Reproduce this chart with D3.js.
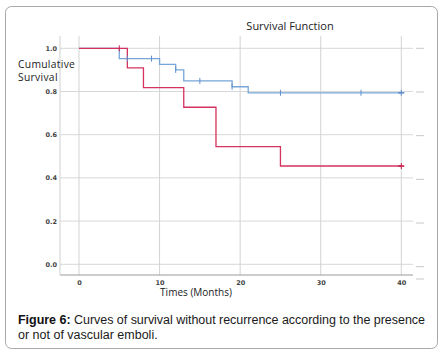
<!DOCTYPE html>
<html><head><meta charset="utf-8">
<script src="https://cdn.jsdelivr.net/npm/d3@7"></script>
<style>body{margin:0;background:#fff}svg{display:block}</style>
</head><body><svg id="c" width="445" height="356"></svg>
<script>
const xTicks = [0,10,20,30,40];
const yTicks = [0.0,0.2,0.4,0.6,0.8,1.0];
const redTimes = [0,6,8,13,17,25];
const redValues = [1.0,0.909,0.818,0.727,0.545,0.455];
const redCensorTimes = [5,40];
const redCensorValues = [1.0,0.455];
const blueTimes = [0,5,10,12,13,19,21];
const blueValues = [1.0,0.952,0.926,0.900,0.849,0.822,0.794];
const blueCensorTimes = [6,9,12,15,19,25,35,40];
const blueCensorValues = [0.952,0.952,0.900,0.849,0.822,0.794,0.794,0.794];
const endTime = 40;

(function(){
const svg = d3.select("#c");
svg.append("rect").attr("x",5.5).attr("y",6.5).attr("width",432).attr("height",342)
  .attr("rx",6).attr("fill","#fff").attr("stroke","#a8a8a8").attr("stroke-width",1);

const x = d3.scaleLinear().domain([0,40]).range([79,401.3]);
const y = d3.scaleLinear().domain([0,1]).range([264.3,48.3]);
const pL = 60, pR = 413, pT = 36, pB = 275;

const g = svg.append("g");
g.selectAll(".hg").data(yTicks).join("line")
  .attr("x1",pL).attr("x2",pR).attr("y1",d=>y(d)).attr("y2",d=>y(d))
  .attr("stroke","#d8d8d8").attr("stroke-width",1);
g.selectAll(".vg").data(xTicks).join("line")
  .attr("x1",d=>x(d)).attr("x2",d=>x(d)).attr("y1",pT).attr("y2",pB)
  .attr("stroke","#d3d3d3").attr("stroke-width",1);
g.selectAll(".rd").data(yTicks).join("line")
  .attr("x1",416).attr("x2",424).attr("y1",d=>y(d)+(1-d)*2.4).attr("y2",d=>y(d)+(1-d)*2.4)
  .attr("stroke","#c8c8c8");
g.append("line").attr("x1",416).attr("x2",424).attr("y1",279).attr("y2",279).attr("stroke","#c8c8c8");
g.append("line").attr("x1",pL).attr("x2",pR).attr("y1",pB).attr("y2",pB).attr("stroke","#9a9a9a");
g.append("line").attr("x1",pL).attr("x2",pL).attr("y1",pT).attr("y2",pB).attr("stroke","#cfcfcf");

const yAxis = svg.append("g").attr("transform",`translate(${pL},0)`)
  .call(d3.axisLeft(y).tickValues(yTicks).tickFormat(d3.format(".1f")).tickSize(0).tickPadding(3));
yAxis.select(".domain").remove();
yAxis.selectAll("text").attr("font-family","DejaVu Sans").attr("font-size",6.5).attr("font-weight","bold").attr("fill","#444");
const xAxis = svg.append("g").attr("transform",`translate(0,${pB})`)
  .call(d3.axisBottom(x).tickValues(xTicks).tickFormat(d3.format("d")).tickSize(0).tickPadding(5));
xAxis.select(".domain").remove();
xAxis.selectAll("text").attr("font-family","DejaVu Sans").attr("font-size",6.5).attr("font-weight","bold").attr("fill","#444");

svg.append("text").attr("x",290).attr("y",30).attr("text-anchor","middle")
  .attr("font-family","Open Sans").attr("font-size",11).attr("fill","#222").text("Survival Function");
svg.append("text").attr("x",196).attr("y",296).attr("text-anchor","middle")
  .attr("font-family","Open Sans").attr("font-size",10).attr("fill","#222").text("Times (Months)");
svg.append("text").attr("x",18).attr("y",67.5)
  .attr("font-family","Open Sans").attr("font-size",10.3).attr("letter-spacing",0.3).attr("fill","#222").text("Cumulative");
svg.append("text").attr("x",18).attr("y",80.5)
  .attr("font-family","Open Sans").attr("font-size",10.3).attr("letter-spacing",0.3).attr("fill","#222").text("Survival");

function stepData(times, values){
  const pts = times.map((t,i)=>[t,values[i]]);
  pts.push([endTime, values[values.length-1]]);
  return pts;
}
const line = d3.line().x(d=>x(d[0])).y(d=>y(d[1])).curve(d3.curveStepAfter);
svg.append("path").datum(stepData(blueTimes,blueValues)).attr("d",line)
  .attr("fill","none").attr("stroke","#77a5d9").attr("stroke-width",1.3);
svg.append("path").datum(stepData(redTimes,redValues)).attr("d",line)
  .attr("fill","none").attr("stroke","#d4335f").attr("stroke-width",1.3);

function censor(times, values, color){
  const gg = svg.append("g").attr("stroke",color).attr("stroke-width",1);
  times.forEach((t,i)=>{
    const cx = x(t), cy = y(values[i]);
    gg.append("line").attr("x1",cx).attr("x2",cx).attr("y1",cy-3).attr("y2",cy+3);
    if (t===endTime){
      gg.append("line").attr("x1",cx-3).attr("x2",cx+3).attr("y1",cy).attr("y2",cy).attr("stroke-width",1.6);
    }
  });
}
censor(blueCensorTimes, blueCensorValues, "#5f8fcc");
censor(redCensorTimes, redCensorValues, "#c8204e");

const cap = svg.append("text").attr("x",18).attr("y",324)
  .attr("font-family","Liberation Sans, Arial").attr("font-size",12.5).attr("fill","#1a1a1a")
  .attr("textLength",407).attr("lengthAdjust","spacing");
cap.append("tspan").attr("font-weight","bold").attr("fill","#111").text("Figure 6:");
cap.append("tspan").text(" Curves of survival without recurrence according to the presence");
svg.append("text").attr("x",18).attr("y",338.5)
  .attr("font-family","Liberation Sans, Arial").attr("font-size",12.5).attr("fill","#1a1a1a")
  .text("or not of vascular emboli.");
})();
</script></body></html>
